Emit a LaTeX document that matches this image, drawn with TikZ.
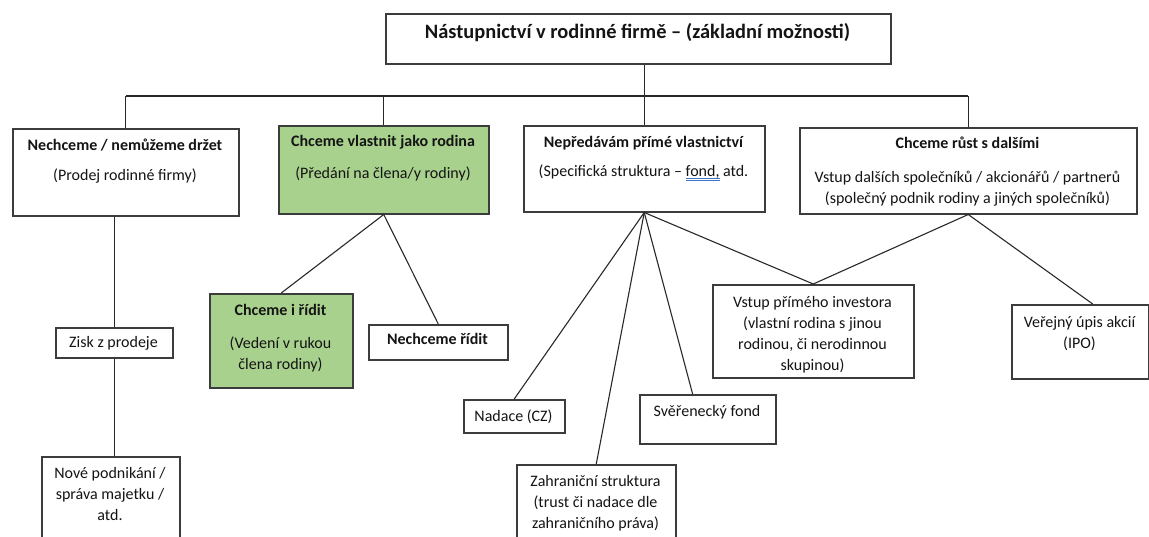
\documentclass[tikz,border=0pt]{standalone}
\usepackage{fontspec}
\setmainfont{Carlito}
\usetikzlibrary{calc}
\definecolor{boxline}{RGB}{60,60,60}
\definecolor{linkline}{RGB}{40,40,40}
\definecolor{famgreen}{RGB}{169,209,142}
\definecolor{inktext}{RGB}{20,20,20}
\definecolor{ulblue}{RGB}{68,114,196}
% double blue underline under a word
\newcommand\dblul[1]{\setbox0\hbox{#1}%
  \rlap{\textcolor{ulblue}{\rule[-2.6pt]{\wd0}{0.6pt}}}%
  \rlap{\textcolor{ulblue}{\rule[-4.4pt]{\wd0}{0.6pt}}}\box0}
\tikzset{
  box/.style={draw=boxline, line width=1.5pt, fill=white, anchor=north west, inner sep=0pt},
  greenbox/.style={box, fill=famgreen},
  % multi-line texts are placed by the baseline of their last line
  txt/.style={anchor=base, inner sep=0pt, align=center, text=inktext,
    font=\fontsize{16}{21}\selectfont},
  btxt/.style={txt, font=\fontsize{16}{21}\selectfont\bfseries},
  link/.style={draw=linkline, line width=1.1pt},
}
\begin{document}
\begin{tikzpicture}[x=1pt, y=-1pt]
\useasboundingbox (0,0) rectangle (1149,536);

% ---- boxes ----
\node[box, minimum width=505pt, minimum height=50pt] (title) at (385,13) {};
\node[box, minimum width=226pt, minimum height=87pt] (b1) at (12,128) {};
\node[greenbox, minimum width=210pt, minimum height=88pt] (b2) at (278,125) {};
\node[box, minimum width=241pt, minimum height=86pt] (b3) at (523,125) {};
\node[box, minimum width=337pt, minimum height=86pt] (b4) at (799,127) {};
\node[box, minimum width=117pt, minimum height=30pt] (zisk) at (55,327) {};
\node[box, minimum width=138pt, minimum height=100pt] (nove) at (41,456) {};
\node[greenbox, minimum width=143pt, minimum height=94pt] (ridit) at (209,293) {};
\node[box, minimum width=139pt, minimum height=35pt] (neridit) at (368,324) {};
\node[box, minimum width=101pt, minimum height=33pt] (nadace) at (463,399) {};
\node[box, minimum width=159pt, minimum height=100pt] (zahr) at (516,464) {};
\node[box, minimum width=136pt, minimum height=49pt] (sver) at (639,394) {};
\node[box, minimum width=201pt, minimum height=93pt] (vstup) at (712,284) {};
\node[box, minimum width=137pt, minimum height=74pt] (ipo) at (1011,304) {};

% ---- texts ----
\node[btxt, font=\fontsize{20.4}{24}\selectfont\bfseries] (ttitle) at (637.5,38) {Nástupnictví v rodinné firmě – (základní možnosti)};

\node[btxt] (t1a) at (125,150) {Nechceme / nemůžeme držet};
\node[txt]  (t1b) at (125,180) {(Prodej rodinné firmy)};

\node[btxt] (t2a) at (383,146) {Chceme vlastnit jako rodina};
\node[txt]  (t2b) at (383,178) {(Předání na člena/y rodiny)};

\node[btxt] (t3a) at (643.5,147) {Nepředávám přímé vlastnictví};
\node[txt]  (t3b) at (643.5,176) {(Specifická struktura – \dblul{fond,}\ atd.};

\node[btxt] (t4a) at (967.5,148) {Chceme růst s dalšími};
\node[txt]  (t4b) at (967.5,203) {Vstup dalších společníků / akcionářů / partnerů\\(společný podnik rodiny a jiných společníků)};

\node[txt] (tzisk) at (113.5,347) {Zisk z prodeje};
\node[txt] (tnove) at (110,520) {Nové podnikání /\\správa majetku /\\atd.};

\node[btxt] (tridita) at (280.5,315) {Chceme i řídit};
\node[txt]  (triditb) at (280.5,369) {(Vedení v rukou\\člena rodiny)};
\node[btxt] (tnerid) at (437.5,344) {Nechceme řídit};

\node[txt] (tnad) at (513.5,421) {Nadace (CZ)};
\node[txt] (tzahr) at (595.5,528) {Zahraniční struktura\\(trust či nadace dle\\zahraničního práva)};
\node[txt] (tsver) at (707,416) {Svěřenecký fond};
\node[txt] (tvstup) at (812.5,370) {Vstup přímého investora\\(vlastní rodina s jinou\\rodinou, či nerodinnou\\skupinou)};
\node[txt] (tipo) at (1079.5,348) {Veřejný úpis akcií\\(IPO)};

% ---- connectors ----
\coordinate (bus) at (0,96);
\draw[link] (title.south -| b3.north) -- (b3.north);
\draw[link] (b1.north |- bus) -- (b4.north |- bus);
\draw[link] (b1.north |- bus) -- (b1.north);
\draw[link] (b2.north |- bus) -- (b2.north);
\draw[link] (b4.north |- bus) -- (b4.north);

\draw[link] (b1.south -| zisk.north) -- (zisk.north);
\draw[link] (zisk.south) -- (zisk.south |- nove.north);

\draw[link] (b2.south) -- (ridit.north);
\draw[link] (b2.south) -- (neridit.north);

\draw[link] (b3.south) -- (nadace.north);
\draw[link] (b3.south) -- (zahr.north);
\draw[link] (b3.south) -- ($(sver.north west)!0.39!(sver.north east)$);
\draw[link] (b3.south) -- (vstup.north);

\draw[link] (b4.south) -- (vstup.north);
\draw[link] (b4.south) -- ($(ipo.north west)!0.59!(ipo.north east)$);
\end{tikzpicture}
\end{document}
